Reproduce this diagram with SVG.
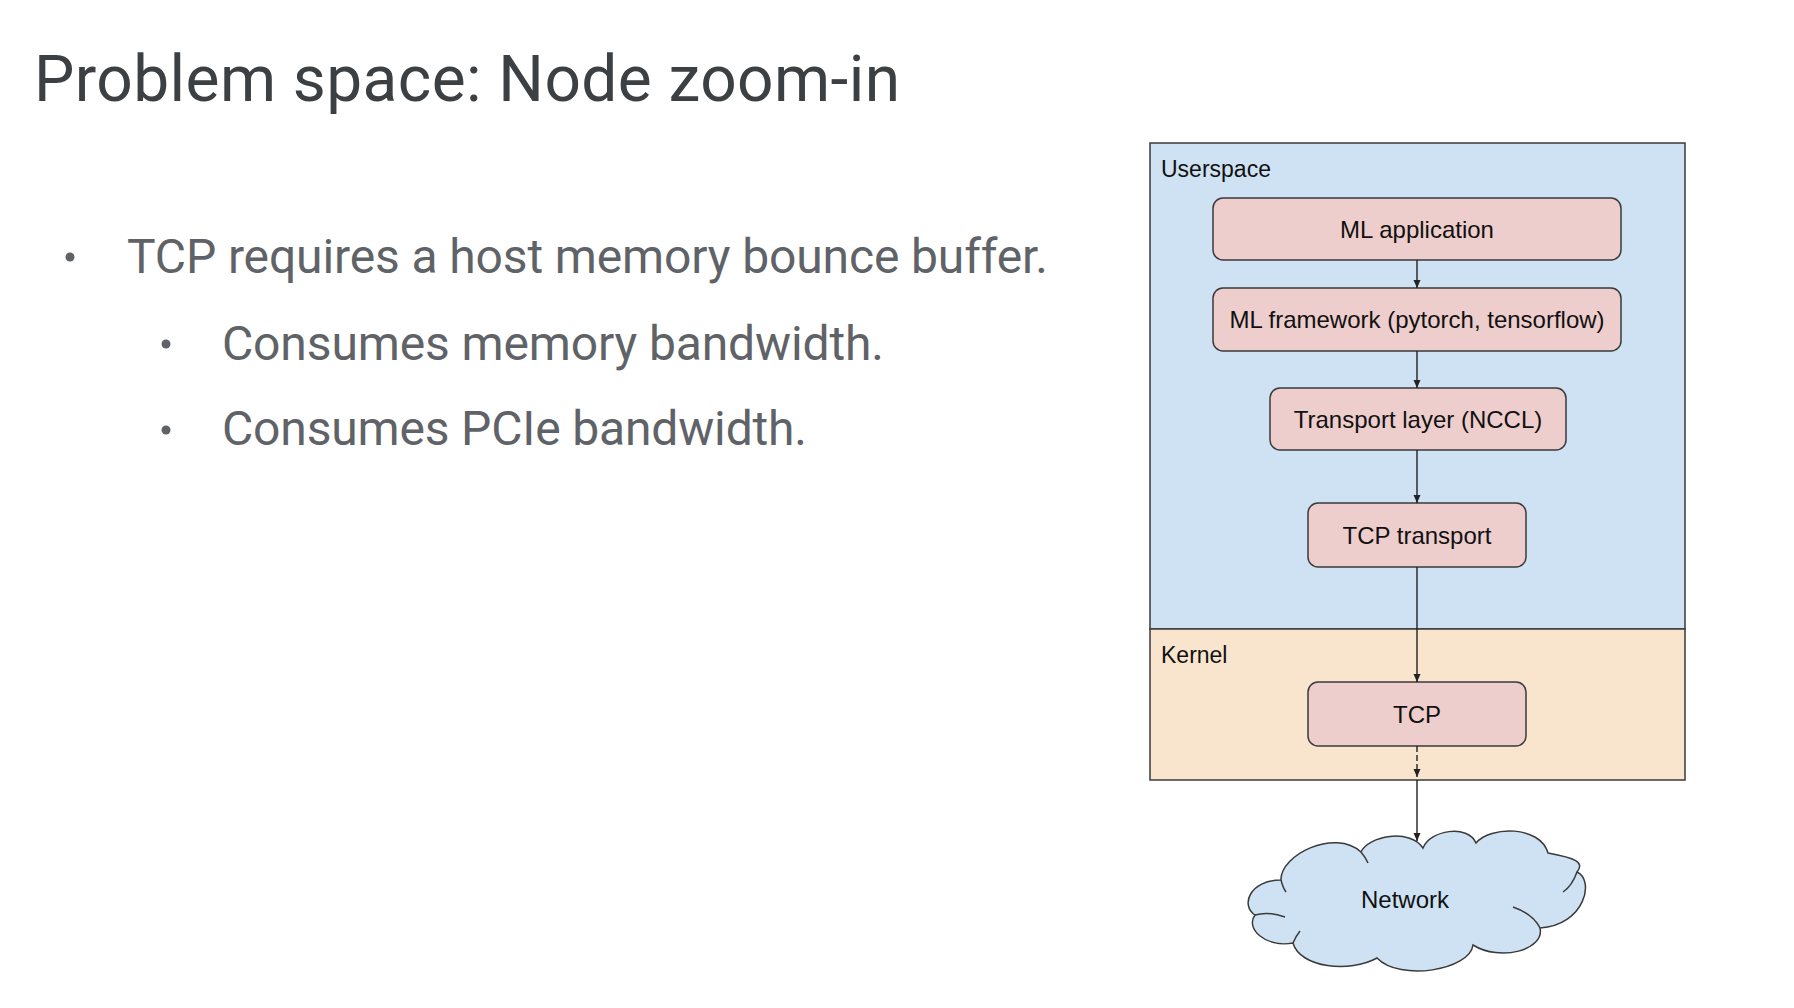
<svg xmlns="http://www.w3.org/2000/svg" width="1794" height="1008" viewBox="0 0 1794 1008">
<style>
.title{font-family:Roboto,"Liberation Sans",sans-serif;font-size:64px;fill:#3c4043}
.bul{font-family:Roboto,"Liberation Sans",sans-serif;font-size:48px;fill:#5f6368}
.dot{fill:#5f6368}
.node rect{fill:#eecdcd;stroke:#3a3a3a;stroke-width:1.5}
.lbl{font-family:"Liberation Sans",Arial,sans-serif;font-size:24px;fill:#111;text-anchor:middle}
.zone{font-family:"Liberation Sans",Arial,sans-serif;font-size:23px;fill:#111}
.conn line{stroke:#222;stroke-width:1.4;fill:none}
</style>
<defs>
<marker id="ah" markerUnits="userSpaceOnUse" markerWidth="10" markerHeight="10" viewBox="0 0 10 10" refX="9" refY="5" orient="auto">
<path d="M1,1.5 L9,5 L1,8.5 Z" fill="#222"/>
</marker>
</defs>
<rect width="1794" height="1008" fill="#ffffff"/>

<g id="title">
<text class="title" x="34" y="101" textLength="866" lengthAdjust="spacing">Problem space: Node zoom-in</text>
</g>

<g id="bullets">
<circle class="dot" cx="70" cy="257" r="4.5"/>
<text class="bul" x="127" y="273" textLength="921" lengthAdjust="spacing">TCP requires a host memory bounce buffer.</text>
<circle class="dot" cx="166" cy="344" r="4.5"/>
<text class="bul" x="222" y="360" textLength="662" lengthAdjust="spacing">Consumes memory bandwidth.</text>
<circle class="dot" cx="166" cy="430" r="4.5"/>
<text class="bul" x="222" y="445" textLength="585" lengthAdjust="spacing">Consumes PCIe bandwidth.</text>
</g>

<g id="userspace">
<rect x="1150" y="143" width="535" height="486" fill="#cfe2f3" stroke="#3a3a3a" stroke-width="1.5"/>
<text class="zone" x="1161" y="177">Userspace</text>
</g>
<g id="kernel">
<rect x="1150" y="629" width="535" height="151" fill="#f9e5ce" stroke="#3a3a3a" stroke-width="1.5"/>
<text class="zone" x="1161" y="663">Kernel</text>
</g>

<g id="ml-application" class="node">
<rect x="1213" y="198" width="408" height="62" rx="10"/>
<text class="lbl" x="1417" y="238">ML application</text>
</g>
<g id="ml-framework" class="node">
<rect x="1213" y="288" width="408" height="63" rx="10"/>
<text class="lbl" x="1417" y="328">ML framework (pytorch, tensorflow)</text>
</g>
<g id="transport-layer" class="node">
<rect x="1270" y="388" width="296" height="62" rx="10"/>
<text class="lbl" x="1418" y="428">Transport layer (NCCL)</text>
</g>
<g id="tcp-transport" class="node">
<rect x="1308" y="503" width="218" height="64" rx="10"/>
<text class="lbl" x="1417" y="544">TCP transport</text>
</g>
<g id="tcp" class="node">
<rect x="1308" y="682" width="218" height="64" rx="10"/>
<text class="lbl" x="1417" y="723">TCP</text>
</g>

<g id="network">
<path d="M1281,880 C1280,855 1335,828 1361,852 C1368,836 1410,828 1423,848 C1430,830 1468,824 1476,843 C1490,826 1540,825 1548,853 C1575,858 1585,862 1577,872 C1595,880 1585,925 1540,928 C1545,950 1500,962 1473,945 C1470,970 1400,982 1377,958 C1350,973 1300,968 1293,943 C1265,948 1245,928 1255,915 C1240,905 1250,880 1281,880 Z" fill="#cfe2f3" stroke="#3a3a3a" stroke-width="1.5"/>
<path d="M1285,917 Q1268,911 1255,915 M1577,872 Q1572,886 1563,892 M1513,907 Q1533,914 1540,928 M1361,852 Q1366,858 1368,863 M1281,880 Q1283,888 1286,892 M1293,943 Q1296,936 1300,931" fill="none" stroke="#3a3a3a" stroke-width="1.5"/>
<text class="lbl" x="1405" y="908">Network</text>
</g>

<g id="connectors" class="conn">
<line x1="1417" y1="260" x2="1417" y2="288" marker-end="url(#ah)"/>
<line x1="1417" y1="351" x2="1417" y2="388" marker-end="url(#ah)"/>
<line x1="1417" y1="450" x2="1417" y2="503" marker-end="url(#ah)"/>
<line x1="1417" y1="567" x2="1417" y2="682" marker-end="url(#ah)"/>
<line x1="1417" y1="746" x2="1417" y2="777" stroke-dasharray="6,3" marker-end="url(#ah)"/>
<line x1="1417" y1="780" x2="1417" y2="841" marker-end="url(#ah)"/>
</g>
</svg>
